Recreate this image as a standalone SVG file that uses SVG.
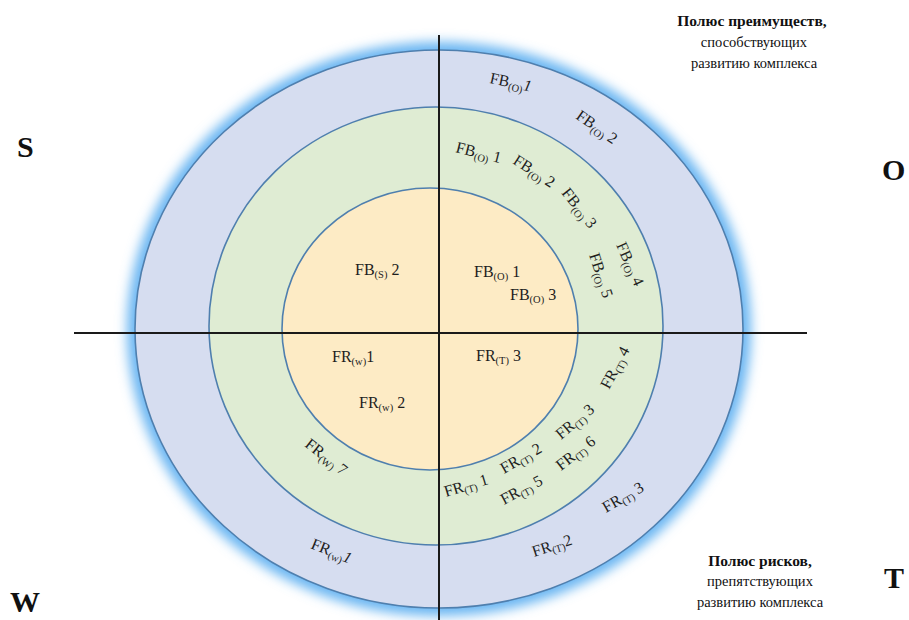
<svg xmlns="http://www.w3.org/2000/svg" width="909" height="620" viewBox="0 0 909 620">
<defs>
<filter id="glow" x="-20%" y="-20%" width="140%" height="140%"><feGaussianBlur stdDeviation="6"/></filter>
<style>
.ring{stroke:#4f7fae;stroke-width:1.6}
.ax{stroke:#1a1a1a;stroke-width:2}
.lb{font-family:"Liberation Serif","Times New Roman",serif;font-size:16px;fill:#1e1e1e}
.sb{font-size:10.5px}
.pole{font-family:"Liberation Serif","Times New Roman",serif;font-size:30px;font-weight:bold;fill:#111}
.cap{font-family:"Liberation Serif","Times New Roman",serif;font-size:14.5px;fill:#111;text-anchor:middle}
.capb{font-weight:bold;font-size:15.5px}
</style>
</defs>
<rect width="909" height="620" fill="#ffffff"/>
<g id="ring-outer">
<ellipse cx="439" cy="329" rx="312" ry="287" fill="#6ab6f2" filter="url(#glow)"/>
<ellipse class="ring" cx="439" cy="329" rx="304" ry="279" fill="#d6ddf0"/>
</g>
<g id="ring-middle"><ellipse class="ring" cx="436" cy="326" rx="227" ry="219" fill="#dfecd3"/></g>
<g id="ring-inner"><ellipse class="ring" cx="430" cy="329" rx="148" ry="141" fill="#fdebc5"/></g>
<g id="connectors">
<line class="ax" x1="439" y1="35" x2="439" y2="620"/>
<line class="ax" x1="74" y1="333" x2="807" y2="333"/>
</g>
<g id="pole-S"><text class="pole" x="17" y="157">S</text></g>
<g id="pole-O"><text class="pole" x="882" y="180">O</text></g>
<g id="pole-W"><text class="pole" x="10" y="612">W</text></g>
<g id="pole-T"><text class="pole" x="884" y="588">T</text></g>
<g id="caption-top">
<text class="cap" x="752" y="26"><tspan class="capb">Полюс преимуществ,</tspan><tspan x="754" dy="21">способствующих</tspan><tspan x="754" dy="21">развитию комплекса</tspan></text>
</g>
<g id="caption-bottom">
<text class="cap" x="760" y="566"><tspan class="capb">Полюс рисков,</tspan><tspan x="760" dy="20">препятствующих</tspan><tspan x="760" dy="21">развитию комплекса</tspan></text>
</g>
<g id="fb-s-2"><text class="lb" x="355" y="275">FB<tspan class="sb" dy="3">(S)</tspan><tspan dy="-3"> 2</tspan></text></g>
<g id="fr-w-1-inner"><text class="lb" x="332" y="362">FR<tspan class="sb" dy="3">(w)</tspan><tspan dy="-3">1</tspan></text></g>
<g id="fr-w-2-inner"><text class="lb" x="359" y="408">FR<tspan class="sb" dy="3">(w)</tspan><tspan dy="-3"> 2</tspan></text></g>
<g id="fb-o-1-inner"><text class="lb" x="474" y="277">FB<tspan class="sb" dy="3">(O)</tspan><tspan dy="-3"> 1</tspan></text></g>
<g id="fb-o-3-inner"><text class="lb" x="510" y="300">FB<tspan class="sb" dy="3">(O)</tspan><tspan dy="-3"> 3</tspan></text></g>
<g id="fr-t-3-inner"><text class="lb" x="476" y="361">FR<tspan class="sb" dy="3">(T)</tspan><tspan dy="-3"> 3</tspan></text></g>
<g id="fb-o-1-mid"><text class="lb" transform="translate(455,152) rotate(14)">FB<tspan class="sb" dy="3">(O)</tspan><tspan dy="-3"> 1</tspan></text></g>
<g id="fb-o-2-mid"><text class="lb" transform="translate(512,163) rotate(33)">FB<tspan class="sb" dy="3">(O)</tspan><tspan dy="-3"> 2</tspan></text></g>
<g id="fb-o-3-mid"><text class="lb" transform="translate(561,193) rotate(52)">FB<tspan class="sb" dy="3">(O)</tspan><tspan dy="-3"> 3</tspan></text></g>
<g id="fb-o-4-mid"><text class="lb" transform="translate(616,245) rotate(66)">FB<tspan class="sb" dy="3">(O)</tspan><tspan dy="-3"> 4</tspan></text></g>
<g id="fb-o-5-mid"><text class="lb" transform="translate(589,255) rotate(72)">FB<tspan class="sb" dy="3">(O)</tspan><tspan dy="-3"> 5</tspan></text></g>
<g id="fb-o-1-outer"><text class="lb" transform="translate(489,83) rotate(12)">FB<tspan class="sb" dy="3">(O)</tspan><tspan dy="-3" font-style="italic">1</tspan></text></g>
<g id="fb-o-2-outer"><text class="lb" transform="translate(575,118) rotate(35)">FB<tspan class="sb" dy="3">(O)</tspan><tspan dy="-3"> 2</tspan></text></g>
<g id="fr-t-4-mid"><text class="lb" transform="translate(609,390) rotate(-62)">FR<tspan class="sb" dy="3">(T)</tspan><tspan dy="-3"> 4</tspan></text></g>
<g id="fr-t-3-mid"><text class="lb" transform="translate(561,440) rotate(-40)">FR<tspan class="sb" dy="3">(T)</tspan><tspan dy="-3"> 3</tspan></text></g>
<g id="fr-t-6-mid"><text class="lb" transform="translate(561,471) rotate(-38)">FR<tspan class="sb" dy="3">(T)</tspan><tspan dy="-3"> 6</tspan></text></g>
<g id="fr-t-2-mid"><text class="lb" transform="translate(504,474) rotate(-30)">FR<tspan class="sb" dy="3">(T)</tspan><tspan dy="-3"> 2</tspan></text></g>
<g id="fr-t-5-mid"><text class="lb" transform="translate(504,505) rotate(-28)">FR<tspan class="sb" dy="3">(T)</tspan><tspan dy="-3"> 5</tspan></text></g>
<g id="fr-t-1-mid"><text class="lb" transform="translate(446,497) rotate(-17)">FR<tspan class="sb" dy="3">(T)</tspan><tspan dy="-3"> 1</tspan></text></g>
<g id="fr-t-3-outer"><text class="lb" transform="translate(606,513) rotate(-30)">FR<tspan class="sb" dy="3">(T)</tspan><tspan dy="-3"> 3</tspan></text></g>
<g id="fr-t-2-outer"><text class="lb" transform="translate(534,557) rotate(-18)">FR<tspan class="sb" dy="3">(T)</tspan><tspan dy="-3">2</tspan></text></g>
<g id="fr-w-7-mid"><text class="lb" transform="translate(304,446) rotate(38)">FR<tspan class="sb" dy="3">(W)</tspan><tspan dy="-3"> 7</tspan></text></g>
<g id="fr-w-1-outer"><text class="lb" transform="translate(310,548) rotate(22)">FR<tspan class="sb" dy="3">(w)</tspan><tspan dy="-3" font-style="italic">1</tspan></text></g>
</svg>
